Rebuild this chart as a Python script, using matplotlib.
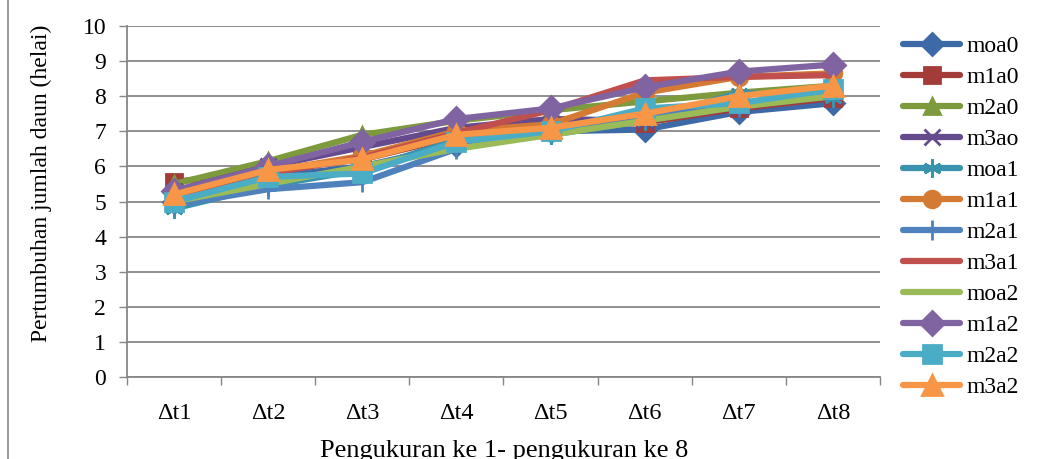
"""
Leaf count growth per measurement interval, 12 treatments
"""
import matplotlib.pyplot as plt
from matplotlib.patches import Rectangle

plt.rcParams['font.family'] = ['Liberation Serif', 'DejaVu Serif']

periods = ['\u0394t1', '\u0394t2', '\u0394t3', '\u0394t4', '\u0394t5', '\u0394t6', '\u0394t7', '\u0394t8']

moa0 = [5.0, 5.7, 6.0, 6.6, 7.0, 7.05, 7.55, 7.8]
m1a0 = [5.55, 5.9, 6.2, 6.85, 7.1, 7.25, 7.65, 7.95]
m2a0 = [5.5, 6.15, 6.9, 7.3, 7.6, 7.85, 8.1, 8.3]
m3ao = [5.3, 6.0, 6.55, 7.1, 7.35, 7.3, 7.7, 8.0]
moa1 = [4.8, 5.45, 5.9, 6.75, 6.9, 7.3, 8.1, 7.95]
m1a1 = [5.3, 5.85, 6.3, 7.0, 7.2, 8.1, 8.55, 8.65]
m2a1 = [4.9, 5.35, 5.55, 6.5, 7.0, 7.4, 7.7, 8.2]
m3a1 = [5.2, 5.8, 6.25, 6.95, 7.6, 8.45, 8.55, 8.6]
moa2 = [5.0, 5.5, 6.0, 6.5, 6.9, 7.3, 7.7, 8.0]
m1a2 = [5.3, 6.0, 6.7, 7.35, 7.65, 8.25, 8.7, 8.9]
m2a2 = [5.0, 5.7, 5.8, 6.7, 7.0, 7.65, 7.8, 8.2]
m3a2 = [5.2, 5.9, 6.2, 6.9, 7.1, 7.5, 8.0, 8.3]

series = [
    ('moa0', moa0, '#3D6AA6', 'D', 11),
    ('m1a0', m1a0, '#A33B38', 's', 12),
    ('m2a0', m2a0, '#7D9A3C', '^', 12),
    ('m3ao', m3ao, '#654A8E', 'x', 11),
    ('moa1', moa1, '#3993AD', (6, 2, 0), 13),
    ('m1a1', m1a1, '#D57A32', 'o', 12),
    ('m2a1', m2a1, '#4F81BD', '|', 14),
    ('m3a1', m3a1, '#C0504D', None, 0),
    ('moa2', moa2, '#9BBB59', None, 0),
    ('m1a2', m1a2, '#8064A2', 'D', 12),
    ('m2a2', m2a2, '#4BACC6', 's', 13),
    ('m3a2', m3a2, '#F79646', '^', 14),
]

fig = plt.figure(figsize=(10.53, 4.59), dpi=100)
ax = fig.add_axes([0.1206, 0.1786, 0.7151, 0.7648])

x = range(len(periods))
for name, vals, color, marker, ms in series:
    kw = dict(color=color, linewidth=4.5, label=name, solid_capstyle='round',
              solid_joinstyle='round')
    if marker is not None:
        kw.update(marker=marker, markersize=ms, markerfacecolor=color,
                  markeredgecolor=color, markeredgewidth=2)
    ax.plot(x, vals, **kw)

ax.set_xlim(-0.5, len(periods) - 0.5)
ax.set_ylim(0, 10)
ax.set_yticks(range(0, 11))
ax.set_xticks(range(len(periods)))
ax.set_xticklabels(periods)
ax.set_xticks([i - 0.5 for i in range(len(periods) + 1)], minor=True)
ax.tick_params(axis='x', which='major', length=0, pad=19, labelsize=17.5)
ax.tick_params(axis='x', which='minor', length=6, width=1, color='#868686', direction='out')
ax.tick_params(axis='y', length=6, width=1, color='#868686', labelsize=17, pad=9)

ax.grid(axis='y', color='#868686', linewidth=1.3)
ax.set_axisbelow(True)
for side in ['top', 'right']:
    ax.spines[side].set_visible(False)
for side in ['left', 'bottom']:
    ax.spines[side].set_color('#868686')
    ax.spines[side].set_linewidth(1.3)

fig.text(0.039, 0.60, 'Pertumbuhan jumlah daun (helai)', rotation=90,
         ha='center', va='center', fontsize=17)
fig.text(0.479, 0.004, 'Pengukuran ke 1- pengukuran ke 8', ha='center',
         va='baseline', fontsize=19)

ax.legend(loc='upper left', bbox_to_anchor=(0.858, 0.922), bbox_transform=fig.transFigure,
          frameon=False, fontsize=17, handlelength=2.4, handletextpad=0.25,
          labelspacing=0.4, borderaxespad=0, borderpad=0)

fig.add_artist(Rectangle((8 / 1053, -0.1), 1.2, 1.2, transform=fig.transFigure,
                         fill=False, edgecolor='#868686', linewidth=1.2))

fig.savefig('out.png', dpi=100)
